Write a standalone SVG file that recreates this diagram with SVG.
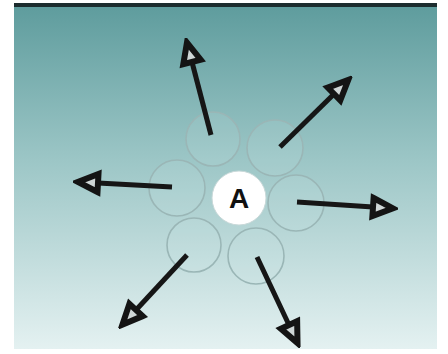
<svg xmlns="http://www.w3.org/2000/svg" width="448" height="354" viewBox="0 0 448 354">
<defs>
<linearGradient id="bg" x1="0" y1="0" x2="0" y2="1">
<stop offset="0" stop-color="#5e9c9d"/>
<stop offset="0.45" stop-color="#9cc6c6"/>
<stop offset="1" stop-color="#e4f1f1"/>
</linearGradient>
<marker id="head" markerUnits="userSpaceOnUse" markerWidth="30" markerHeight="28" viewBox="0 0 30 28" refX="5" refY="14" orient="auto">
<path d="M5,5 L25,14 L5,23 Z" fill="#cfd6d6" stroke="#141414" stroke-width="6" stroke-linejoin="miter"/>
</marker>
</defs>
<style>
.ring{fill:#d6ecec;fill-opacity:0.12;stroke:#9ab6b6;stroke-width:1.6}
.arrow{stroke:#161616;stroke-width:5;fill:none;marker-end:url(#head)}
.label{font-family:"Liberation Sans",Arial,sans-serif;font-size:28px;font-weight:bold;fill:#111}
</style>
<rect x="0" y="0" width="448" height="354" fill="#ffffff"/>
<rect x="14" y="5" width="423" height="344" fill="url(#bg)"/>
<rect x="14" y="3" width="423" height="4" fill="#1c2c2e"/>
<g id="ring-top-left"><circle class="ring" cx="213" cy="139" r="27"/></g>
<g id="ring-top-right"><circle class="ring" cx="275" cy="148" r="28"/></g>
<g id="ring-left"><circle class="ring" cx="177" cy="188" r="28"/></g>
<g id="ring-right"><circle class="ring" cx="296" cy="203" r="28"/></g>
<g id="ring-bottom-left"><circle class="ring" cx="194" cy="245" r="27"/></g>
<g id="ring-bottom-right"><circle class="ring" cx="256" cy="256" r="28"/></g>
<g id="node-A">
<circle cx="239" cy="198" r="27" fill="#ffffff" stroke="#c8d8d8" stroke-width="1"/>
<text class="label" x="239" y="208" text-anchor="middle">A</text>
</g>
<g id="connectors">
<line class="arrow" x1="211" y1="135" x2="192" y2="62"/>
<line class="arrow" x1="280" y1="147" x2="334" y2="94"/>
<line class="arrow" x1="172" y1="187" x2="98" y2="183"/>
<line class="arrow" x1="297" y1="202" x2="373" y2="207"/>
<line class="arrow" x1="187" y1="255" x2="136" y2="310"/>
<line class="arrow" x1="257" y1="257" x2="289" y2="325"/>
</g>
</svg>
